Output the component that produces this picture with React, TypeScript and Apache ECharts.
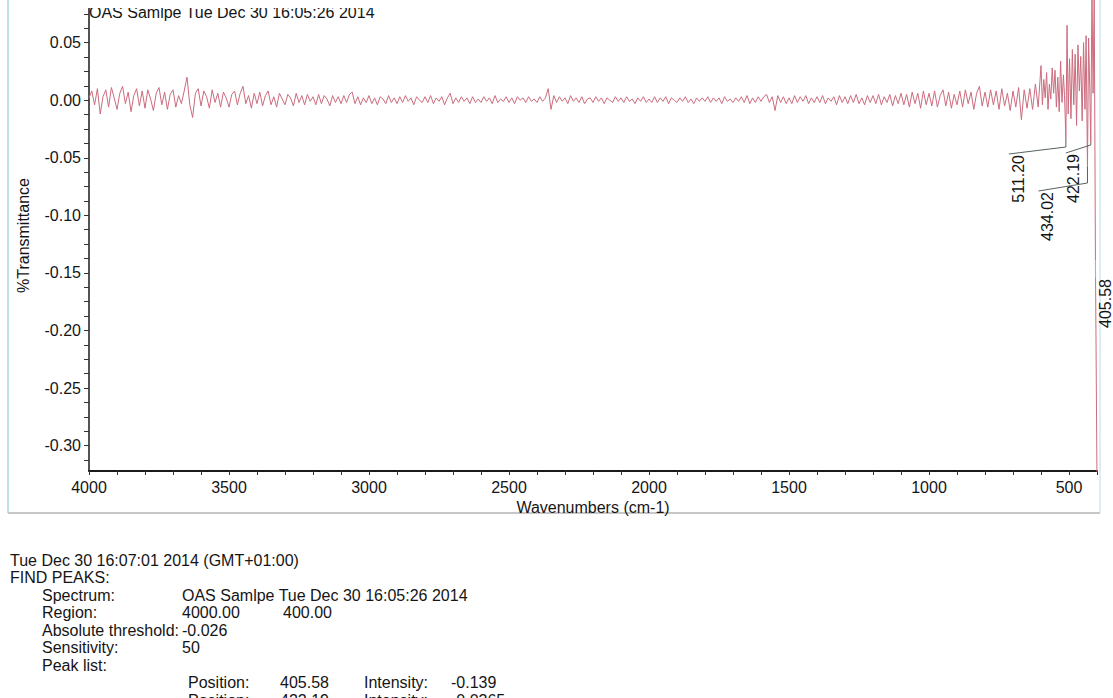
import React, { useEffect, useRef } from 'react';
import * as echarts from 'echarts';

// Sampled spectrum, 4000 -> 610 cm-1 every 10 cm-1, values in thousandths of %T units
const spectrumStart = 4000;
const spectrumStep = 10;
const spectrumMilli = [
  2, 8, -4, 10, -12, 3, 9, -6, 11, 2,
  -8, 6, 12, -3, 7, -10, 4, 10, -5, 8,
  -7, 9, 1, -9, 6, 11, -4, 7, -8, 5,
  9, -6, 4, -3, 8, 20, -4, -15, 6, 10,
  -5, 8, 3, -7, 9, -2, 6, -6, 7, 2,
  -6, 5, 8, -4, 6, 12, -3, 4, -7, 6,
  -3, 7, -5, 4, 8, -4, 3, -6, 6, 1,
  -4, 5, 2, -5, 6, -2, 4, -4, 5, -1,
  3, -4, 5, -3, 4, 1, -5, 4, -2, 3,
  -3, 4, -2, 5, 7, -3, 3, -4, 2, -2,
  4, -3, 2, -4, 3, 1, -3, 4, -2, 2,
  -3, 3, -2, 4, -1, 2, -4, 3, 0, -2,
  3, -2, 4, -3, 2, -1, 3, -4, 2, 6,
  -3, 2, -2, 3, -1, 2, -3, 3, -2, 1,
  -2, 3, -1, 2, -3, 4, -2, 1, -1, 3,
  -2, 2, -3, 3, 0, 2, -2, 3, -1, 1,
  -2, 3, -1, 2, 10, -8, 4, -2, 3, -1,
  2, -3, 4, -1, 2, -2, 3, -3, 1, 2,
  -2, 3, -1, 2, -3, 2, 0, -2, 3, -1,
  2, -2, 3, -1, 1, -3, 2, -1, 3, -2,
  1, -2, 3, -2, 2, -1, 3, -3, 2, 0,
  -2, 2, -1, 3, -2, 1, -3, 2, -1, 2,
  -1, 3, -2, 2, -1, 2, -3, 3, -1, 1,
  -2, 2, -1, 3, -2, 4, -3, 2, -2, 3,
  -1, 3, 5, -2, 3, -9, 4, -2, 3, -3,
  2, -3, 4, -2, 3, -1, 4, -3, 2, -2,
  3, -2, 4, -3, 2, -1, 3, -4, 4, -2,
  3, -3, 4, -2, 5, -3, 2, -4, 4, -2,
  4, -3, 5, -4, 3, -2, 5, -5, 4, -3,
  6, -4, 5, -6, 7, -3, 6, -7, 8, -4,
  6, -5, 8, -6, 4, 9, -5, 7, -7, 5,
  -4, 8, -6, 9, -3, 7, -8, 6, 12, -5,
  7, -6, 9, -4, 8, -8, 10, -5, 6, -9,
  8, -6, 11, -17, 9, -7, 10, -8, 14, -6,
];

// Low-wavenumber end, [wavenumber, thousandths]
const tailMilli: [number, number][] = [
  [600, 30], [595, -4], [590, 18], [585, 2], [580, 24], [575, -8], [570, 14], [565, 1],
  [560, 28], [555, 6], [550, 26], [545, -6], [540, 20], [535, -10], [530, 34], [525, -2],
  [520, 22], [516, 4], [511.2, -33], [507, 65], [503, -12], [498, 36], [493, -16], [488, 44],
  [483, -4], [478, 40], [473, -22], [468, 48], [463, 8], [458, 38], [453, -18], [448, 50],
  [443, -8], [439, 56], [434.02, -58], [430, 54], [426, 12], [422.19, -36.5], [418, 95],
  [414, 6], [410, 95], [405.58, -139], [400, -330],
];

const peakPositions = [405.58, 422.19, 434.02, 511.2];
const peakLabels = ['405.58', '422.19', '434.02', '511.20'];
const peakIntensities = [-0.139, -0.0365, -0.058, -0.033];

// leader layout (pixels)
const peakElbowY = [278, 145, 183, 147];
const peakLeaderDx = [0, -25, -49, -57];
const peakLeaderEndY = [278, 153, 191, 154];
const peakLabelDx = [10, 8, 9, 10];
const peakLeaderColor = ['#7cc8d8', '#56625e', '#56625e', '#56625e'];

const yTickValues = [
  -0.3125, -0.3, -0.2875, -0.275, -0.2625, -0.25, -0.2375, -0.225, -0.2125, -0.2,
  -0.1875, -0.175, -0.1625, -0.15, -0.1375, -0.125, -0.1125, -0.1, -0.0875, -0.075,
  -0.0625, -0.05, -0.0375, -0.025, -0.0125, 0, 0.0125, 0.025, 0.0375, 0.05, 0.0625, 0.075,
];
const yLabelValues = [-0.3, -0.25, -0.2, -0.15, -0.1, -0.05, 0, 0.05];
const xLabelValues = [4000, 3500, 3000, 2500, 2000, 1500, 1000, 500];

const titleText = 'OAS Samlpe Tue Dec 30 16:05:26 2014';
const reportHeader = ['Tue Dec 30 16:07:01 2014 (GMT+01:00)', 'FIND PEAKS:'];
const reportFields: string[][] = [
  ['Spectrum:', 'OAS Samlpe Tue Dec 30 16:05:26 2014'],
  ['Region:', '4000.00', '400.00'],
  ['Absolute threshold:', '-0.026'],
  ['Sensitivity:', '50'],
  ['Peak list:'],
];
const peakListPositions = ['405.58', '422.19'];
const peakListIntensities = ['-0.139', '-0.0365'];

const FONT = '"Liberation Sans", Arial, sans-serif';

export default function App() {
  const ref = useRef<HTMLDivElement>(null);
  useEffect(() => {
    if (!ref.current) return;
    const chart = echarts.init(ref.current, undefined, { renderer: 'svg' });

    const points: [number, number][] = spectrumMilli.map((v, i) => [
      spectrumStart - i * spectrumStep,
      v / 1000,
    ]);
    tailMilli.forEach(([w, v]) => points.push([w, v / 1000]));

    const lineYs = [560, 577.5, 595, 612.5, 630, 647.5, 665, 682.5, 700];
    const txt = (text: string, x: number, y: number) => ({
      type: 'text',
      x,
      y,
      style: { text, fill: '#151515', font: `16px ${FONT}`, verticalAlign: 'middle', textVerticalAlign: 'middle' },
    });
    const graphics: any[] = [];
    graphics.push(txt(reportHeader[0], 10, lineYs[0]));
    graphics.push(txt(reportHeader[1], 10, lineYs[1]));
    reportFields.forEach((f, i) => {
      graphics.push(txt(f[0], 42, lineYs[2 + i]));
      if (f[1]) graphics.push(txt(f[1], 182, lineYs[2 + i]));
      if (f[2]) graphics.push(txt(f[2], 283, lineYs[2 + i]));
    });
    peakListPositions.forEach((p, i) => {
      const y = lineYs[7 + i];
      graphics.push(txt('Position:', 188, y));
      graphics.push(txt(p, 280, y));
      graphics.push(txt('Intensity:', 364, y));
      graphics.push(txt(peakListIntensities[i], 451, y));
    });
    // printout frame
    graphics.push({ type: 'line', shape: { x1: 8, y1: 0, x2: 8, y2: 513 }, style: { stroke: '#a9d6e5', lineWidth: 1.5 } });
    graphics.push({ type: 'line', shape: { x1: 8, y1: 513, x2: 1100, y2: 513 }, style: { stroke: '#b5b5b5', lineWidth: 1.5 } });
    graphics.push({ type: 'line', shape: { x1: 1100, y1: 0, x2: 1100, y2: 513 }, style: { stroke: '#b9dde8', lineWidth: 1 } });
    // clipped top edge of scan
    graphics.push({ type: 'rect', z: 100, shape: { x: 82, y: 0, width: 320, height: 8 }, style: { fill: '#ffffff' } });

    chart.setOption({
      animation: false,
      backgroundColor: '#ffffff',
      title: {
        text: titleText,
        left: 89,
        top: 4,
        padding: 0,
        textStyle: { fontSize: 16, fontWeight: 'normal', color: '#151515', fontFamily: FONT },
      },
      grid: { left: 89, right: 16, top: 0, bottom: 227 },
      xAxis: {
        type: 'value',
        inverse: true,
        min: 400,
        max: 4000,
        interval: 100,
        name: 'Wavenumbers (cm-1)',
        nameLocation: 'middle',
        nameGap: 19,
        nameTextStyle: { fontSize: 16, color: '#151515', fontFamily: FONT },
        axisLine: { show: true, onZero: false, lineStyle: { color: '#1a1a1a', width: 2 } },
        axisTick: { show: true, length: 4, lineStyle: { color: '#333', width: 1 } },
        axisLabel: {
          fontSize: 16,
          color: '#151515',
          fontFamily: FONT,
          margin: 8,
          formatter: (v: number) => (xLabelValues.indexOf(v) >= 0 ? String(v) : ''),
        },
        splitLine: { show: false },
      },
      yAxis: {
        type: 'value',
        min: -0.322,
        max: 0.087,
        name: '%Transmittance',
        nameLocation: 'middle',
        nameGap: 58,
        nameTextStyle: { fontSize: 16, color: '#151515', fontFamily: FONT },
        axisLine: { show: true, onZero: false, lineStyle: { color: '#1a1a1a', width: 1.5 } },
        axisTick: { show: true, length: 5, customValues: yTickValues, lineStyle: { color: '#333', width: 1 } },
        axisLabel: {
          fontSize: 16,
          color: '#151515',
          fontFamily: FONT,
          margin: 8,
          customValues: yLabelValues,
          formatter: (v: number) => v.toFixed(2),
        },
        splitLine: { show: false },
      },
      series: [
        {
          type: 'line',
          data: points,
          showSymbol: false,
          silent: true,
          lineStyle: { color: '#cc6c7e', width: 1 },
          z: 3,
        },
        {
          type: 'custom',
          data: peakPositions.map((p, i) => [p, peakIntensities[i], i]),
          silent: true,
          z: 4,
          renderItem: (_params: any, api: any) => {
            const i = api.value(2);
            const c = api.coord([api.value(0), api.value(1)]);
            const px = c[0];
            const py = c[1];
            const endX = px + peakLeaderDx[i];
            const endY = peakLeaderEndY[i];
            return {
              type: 'group',
              children: [
                {
                  type: 'polyline',
                  shape: { points: [[px, py], [px, peakElbowY[i]], [endX, endY]] },
                  style: { stroke: peakLeaderColor[i], lineWidth: 1, fill: 'none' },
                },
                {
                  type: 'text',
                  x: endX + peakLabelDx[i],
                  y: endY + 1,
                  rotation: Math.PI / 2,
                  style: {
                    text: peakLabels[i],
                    fill: '#151515',
                    font: `16px ${FONT}`,
                    align: 'right',
                    verticalAlign: 'middle',
                  },
                },
              ],
            };
          },
        },
      ],
      graphic: graphics,
    });
    return () => chart.dispose();
  }, []);
  return (
    <div
      ref={ref}
      style={{ position: 'fixed', left: 0, top: 0, width: 1113, height: 698, background: '#fff' }}
    />
  );
}
